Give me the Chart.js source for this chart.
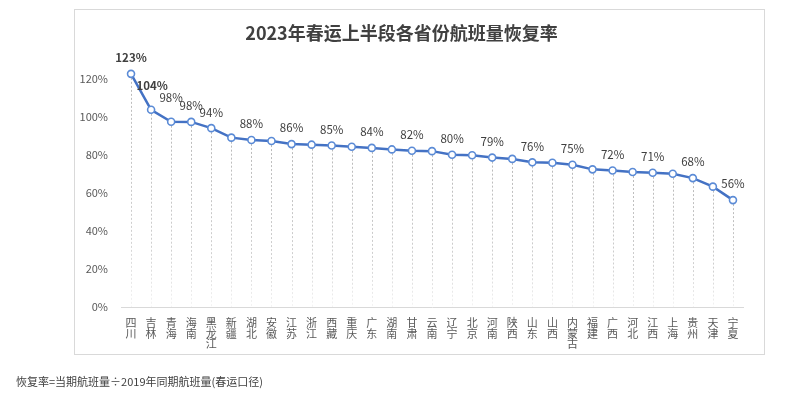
<!DOCTYPE html>
<html>
<head>
<meta charset="utf-8">
<script src="https://cdn.jsdelivr.net/npm/chart.js@4"></script>
<style>
  body { margin: 0; background: #fff; }
  #wrap { position: relative; width: 797px; height: 396px; }
  #frame { position: absolute; left: 74px; top: 9px; width: 689px; height: 344px; border: 1px solid #d9d9d9; }
  #note { position: absolute; left: 16px; top: 373px; font: 11px "Noto Sans CJK SC", sans-serif; color: #404040; }
  canvas { position: absolute; left: 0; top: 0; }
</style>
</head>
<body>
<div id="wrap">
  <div id="frame"></div>
  <canvas id="lineChart" width="797" height="396"></canvas>
  <div id="note">恢复率=当期航班量÷2019年同期航班量(春运口径)</div>
</div>
<script>
    var provinces = ['四川', '吉林', '青海', '海南', '黑龙江', '新疆', '湖北', '安徽', '江苏', '浙江', '西藏', '重庆', '广东', '湖南', '甘肃', '云南',
      '辽宁', '北京', '河南', '陕西', '山东', '山西', '内蒙古', '福建', '广西', '河北', '江西', '上海', '贵州', '天津', '宁夏'];
    var recovery = [122.8, 103.9, 97.6, 97.5, 94.2, 89.2, 88.0, 87.4, 85.8, 85.5, 85.1, 84.4, 83.8, 83.0, 82.3, 82.1,
      80.2, 79.9, 78.7, 78.0, 76.2, 76.0, 74.9, 72.5, 71.9, 71.1, 70.7, 70.2, 67.9, 63.4, 56.3];
    // points that carry a value label in the original
    var labelled = [0, 1, 2, 3, 4, 6, 8, 10, 12, 14, 16, 18, 20, 22, 24, 26, 28, 30];
    var yTicks = [0, 20, 40, 60, 80, 100, 120];

    var font = '"Noto Sans CJK SC", sans-serif';

    // dashed drop lines from each point down to the axis
    var dropLines = {
      id: 'dropLines',
      beforeDatasetsDraw: function (chart) {
        var ctx = chart.ctx;
        var bottom = chart.chartArea.bottom;
        var meta = chart.getDatasetMeta(0);
        ctx.save();
        ctx.lineWidth = 1;
        ctx.setLineDash([2, 2]);
        meta.data.forEach(function (pt) {
          var g = ctx.createLinearGradient(0, pt.y, 0, bottom);
          g.addColorStop(0, '#b8b8b8');
          g.addColorStop(0.7, '#d0d0d0');
          g.addColorStop(1, '#f4f4f4');
          ctx.strokeStyle = g;
          ctx.beginPath();
          ctx.moveTo(Math.round(pt.x) + 0.5, pt.y);
          ctx.lineTo(Math.round(pt.x) + 0.5, bottom);
          ctx.stroke();
        });
        ctx.restore();
      }
    };

    var valueLabels = {
      id: 'valueLabels',
      afterDatasetsDraw: function (chart) {
        var ctx = chart.ctx;
        var meta = chart.getDatasetMeta(0);
        ctx.save();
        ctx.textAlign = 'center';
        ctx.textBaseline = 'middle';
        ctx.fillStyle = '#404040';
        labelled.forEach(function (i) {
          var pt = meta.data[i];
          var bold = i < 2;
          var lift = (i === 1 || i === 2) ? 24 : 16;
          ctx.font = (bold ? 'bold ' : '') + '11.5px ' + font;
          ctx.fillText(Math.round(recovery[i]) + '%', pt.x + (i === 1 ? 1 : 0), pt.y - lift);
        });
        ctx.restore();
      }
    };

    var lineChart = new Chart(document.getElementById('lineChart'), {
      type: 'line',
      data: {
        labels: provinces.map(function (p) { return p.split(''); }),
        datasets: [{
          data: recovery,
          borderColor: '#4472C4',
          borderWidth: 2.5,
          pointRadius: 3.5,
          pointBorderWidth: 1.6,
          pointBorderColor: '#5b8bd6',
          pointBackgroundColor: '#ffffff',
          tension: 0
        }]
      },
      options: {
        responsive: false,
        animation: false,
        layout: { padding: { left: 60, right: 54, top: 25, bottom: 0 } },
        plugins: {
          legend: { display: false },
          tooltip: { enabled: false },
          title: {
            display: true,
            text: '2023年春运上半段各省份航班量恢复率',
            color: '#404040',
            font: { family: font, size: 18, weight: 'bold', lineHeight: 0.9 },
            padding: 0
          }
        },
        scales: {
          x: {
            offset: true,
            grid: { display: false, drawTicks: false },
            border: { color: '#d9d9d9', width: 1 },
            ticks: {
              color: '#595959',
              font: { family: font, size: 11, lineHeight: 0.95 },
              padding: 11,
              maxRotation: 0,
              autoSkip: false
            },
            afterFit: function (scale) { scale.height = 89; }
          },
          y: {
            min: 0,
            max: 140,
            grid: { display: false, drawTicks: false },
            border: { display: false },
            afterBuildTicks: function (scale) {
              scale.ticks = yTicks.map(function (v) { return { value: v }; });
            },
            ticks: {
              color: '#595959',
              font: { family: font, size: 11 },
              padding: 13,
              callback: function (v) { return v + '%'; }
            },
            afterFit: function (scale) { scale.width = 61; }
          }
        }
      },
      plugins: [dropLines, valueLabels]
    });
</script>
</body>
</html>
